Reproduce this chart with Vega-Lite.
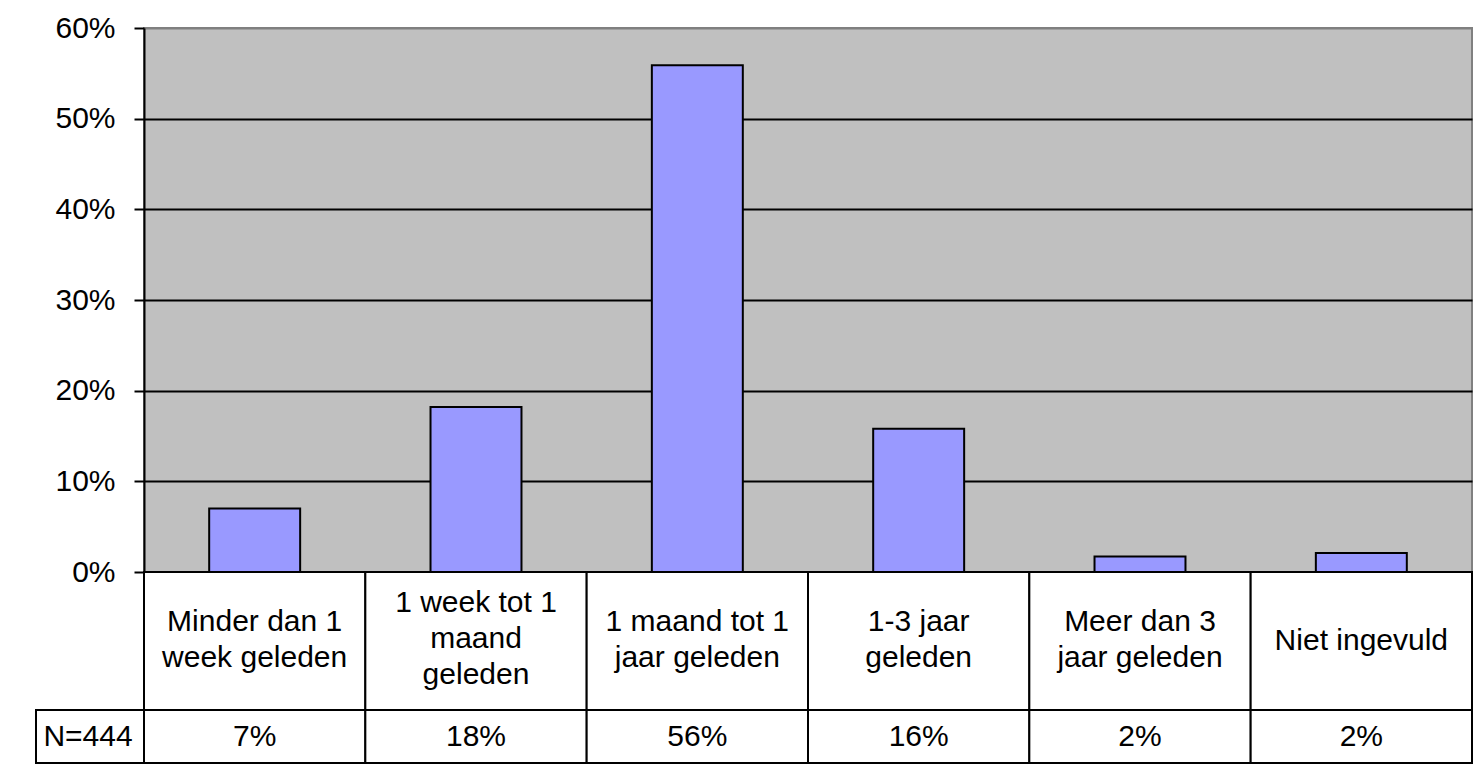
{
  "$schema": "https://vega.github.io/schema/vega-lite/v6.json",
  "background": "white",
  "padding": {"left": 35, "top": 12, "right": 0, "bottom": 0},
  "autosize": {"type": "pad"},
  "columns": 2,
  "spacing": 0,
  "bounds": "flush",
  "datasets": {
    "rows": [
      {"categorie": "Minder dan 1 week geleden", "regels": ["Minder dan 1", "week geleden"], "regelaantal": 2, "percentage": 7.0, "label": "7%"},
      {"categorie": "1 week tot 1 maand geleden", "regels": ["1 week tot 1", "maand", "geleden"], "regelaantal": 3, "percentage": 18.2, "label": "18%"},
      {"categorie": "1 maand tot 1 jaar geleden", "regels": ["1 maand tot 1", "jaar geleden"], "regelaantal": 2, "percentage": 55.9, "label": "56%"},
      {"categorie": "1-3 jaar geleden", "regels": ["1-3 jaar", "geleden"], "regelaantal": 2, "percentage": 15.8, "label": "16%"},
      {"categorie": "Meer dan 3 jaar geleden", "regels": ["Meer dan 3", "jaar geleden"], "regelaantal": 2, "percentage": 1.7, "label": "2%"},
      {"categorie": "Niet ingevuld", "regels": ["Niet ingevuld"], "regelaantal": 1, "percentage": 2.1, "label": "2%"}
    ]
  },
  "concat": [
    {
      "width": 108, "height": 544,
      "data": {"values": [{}]},
      "mark": {"type": "text", "text": ""}
    },
    {
      "width": 1328, "height": 544,
      "data": {"name": "rows"},
      "view": {"fill": "#C0C0C0", "stroke": "#808080", "strokeWidth": 2},
      "mark": {"type": "bar", "fill": "#9999FF", "stroke": "black", "strokeWidth": 2},
      "encoding": {
        "x": {"field": "categorie", "type": "nominal", "sort": null, "scale": {"paddingInner": 0.589, "paddingOuter": 0.2945}, "axis": null},
        "y": {
          "field": "percentage", "type": "quantitative",
          "scale": {"domain": [0, 60], "nice": false, "zero": true},
          "axis": {
            "values": [0, 10, 20, 30, 40, 50, 60],
            "labelExpr": "datum.value + '%'",
            "title": null,
            "grid": true,
            "gridColor": {"condition": {"test": "datum.value === 60", "value": "#808080"}, "value": "black"},
            "gridWidth": 2,
            "domainColor": "black",
            "domainWidth": 2,
            "tickColor": "black",
            "tickWidth": 2,
            "tickSize": 10,
            "labelPadding": 19,
            "labelFont": "Liberation Sans",
            "labelFontSize": 30,
            "labelColor": "black"
          }
        }
      }
    },
    {
      "width": 108, "height": 138,
      "data": {"values": [{}]},
      "mark": {"type": "text", "text": ""}
    },
    {
      "width": 1328, "height": 138,
      "data": {"name": "rows"},
      "encoding": {
        "x": {"field": "categorie", "type": "nominal", "sort": null, "scale": {"paddingInner": 0, "paddingOuter": 0}, "axis": null}
      },
      "layer": [
        {"mark": {"type": "rect", "fill": "white", "stroke": "black", "strokeWidth": 2}},
        {
          "mark": {"type": "text", "font": "Liberation Sans", "fontSize": 30, "lineHeight": 36, "baseline": "middle", "color": "black"},
          "encoding": {
            "text": {"field": "regels", "type": "nominal"},
            "y": {"field": "regelaantal", "type": "quantitative", "scale": {"domain": [1, 3], "range": [69, 31], "zero": false, "nice": false}, "axis": null}
          }
        }
      ]
    },
    {
      "width": 108, "height": 53,
      "data": {"values": [{"n": "N=444"}]},
      "view": {"stroke": "black", "strokeWidth": 2, "fill": "white"},
      "mark": {"type": "text", "font": "Liberation Sans", "fontSize": 30, "baseline": "middle", "color": "black", "dx": -2},
      "encoding": {"text": {"field": "n", "type": "nominal"}}
    },
    {
      "width": 1328, "height": 53,
      "data": {"name": "rows"},
      "encoding": {
        "x": {"field": "categorie", "type": "nominal", "sort": null, "scale": {"paddingInner": 0, "paddingOuter": 0}, "axis": null}
      },
      "layer": [
        {"mark": {"type": "rect", "fill": "white", "stroke": "black", "strokeWidth": 2}},
        {"mark": {"type": "text", "font": "Liberation Sans", "fontSize": 30, "baseline": "middle", "color": "black"}, "encoding": {"text": {"field": "label", "type": "nominal"}}}
      ]
    }
  ],
  "config": {
    "view": {"stroke": null},
    "font": "Liberation Sans"
  }
}
